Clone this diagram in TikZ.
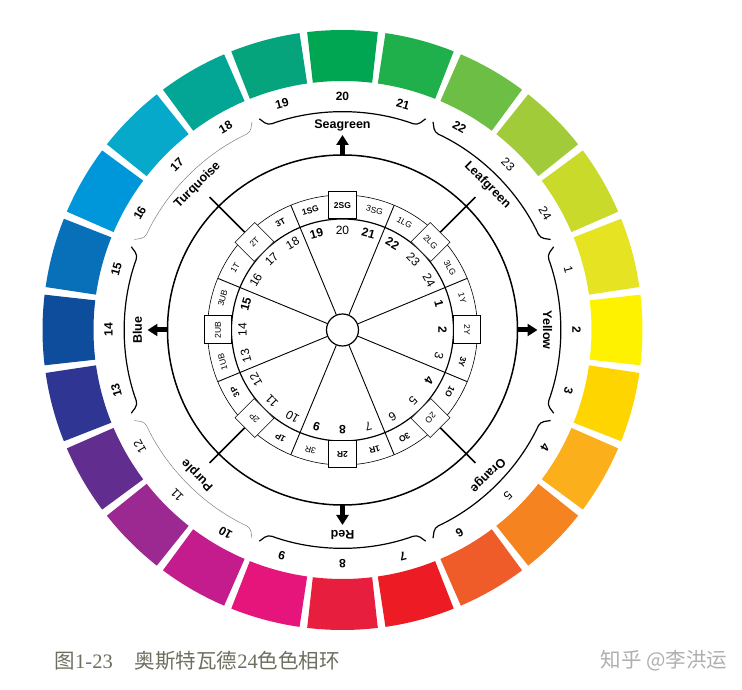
\documentclass[tikz,border=0pt]{standalone}
\usepackage{fontspec}
\setmainfont{Liberation Sans}
\newfontfamily\cjk{Noto Sans CJK SC}
\newfontfamily\capserif{Liberation Serif}
\usetikzlibrary{arrows.meta}
\definecolor{Hue1}{RGB}{230, 227, 35}
\definecolor{Hue2}{RGB}{255, 242, 0}
\definecolor{Hue3}{RGB}{255, 213, 0}
\definecolor{Hue4}{RGB}{251, 175, 27}
\definecolor{Hue5}{RGB}{245, 132, 32}
\definecolor{Hue6}{RGB}{239, 91, 41}
\definecolor{Hue7}{RGB}{237, 28, 36}
\definecolor{Hue8}{RGB}{232, 30, 63}
\definecolor{Hue9}{RGB}{229, 21, 123}
\definecolor{Hue10}{RGB}{196, 27, 141}
\definecolor{Hue11}{RGB}{156, 40, 145}
\definecolor{Hue12}{RGB}{97, 46, 144}
\definecolor{Hue13}{RGB}{46, 53, 146}
\definecolor{Hue14}{RGB}{14, 76, 156}
\definecolor{Hue15}{RGB}{7, 112, 185}
\definecolor{Hue16}{RGB}{0, 150, 218}
\definecolor{Hue17}{RGB}{6, 169, 201}
\definecolor{Hue18}{RGB}{3, 165, 149}
\definecolor{Hue19}{RGB}{6, 164, 124}
\definecolor{Hue20}{RGB}{0, 166, 81}
\definecolor{Hue21}{RGB}{31, 176, 75}
\definecolor{Hue22}{RGB}{108, 190, 69}
\definecolor{Hue23}{RGB}{162, 203, 58}
\definecolor{Hue24}{RGB}{202, 218, 42}
\definecolor{Caption}{RGB}{110, 110, 95}
\definecolor{Mark}{RGB}{175, 175, 175}

\begin{document}
\begin{tikzpicture}[
        x=1pt, y=1pt,
        block/.style = {line width=51pt},
        num/.style = {inner sep=0pt, font=\fontsize{12}{12}\selectfont\bfseries},
        thinnum/.style = {inner sep=0pt, font=\fontsize{12}{12}\selectfont},
        huename/.style = {inner sep=0pt, font=\fontsize{12.5}{12.5}\selectfont\bfseries},
        cell/.style = {inner sep=0pt, font=\fontsize{8.5}{8.5}\selectfont},
        boldcell/.style = {inner sep=0pt, font=\fontsize{8.5}{8.5}\selectfont\bfseries},
        keybox/.style = {draw, fill=white, line width=1pt, minimum width=28pt, minimum height=27pt, inner sep=0pt, font=\fontsize{8.5}{8.5}\selectfont},
        thinbox/.style = {keybox, line width=0.5pt},
        brace/.style = {line width=1.2pt, rounded corners=4pt},
        thinbrace/.style = {line width=0.5pt, gray, rounded corners=4pt},
        pointer/.style = {line width=5pt, -{Triangle[width=12pt, length=10pt]}}
    ]
    \useasboundingbox (-342.5,-360) rectangle (399.5,330);

    \draw[Hue1, block] (8.2:274.5) arc (8.2:21.8:274.5);
    \draw[Hue2, block] (-6.8:274.5) arc (-6.8:6.8:274.5);
    \draw[Hue3, block] (-21.8:274.5) arc (-21.8:-8.2:274.5);
    \draw[Hue4, block] (-36.8:274.5) arc (-36.8:-23.2:274.5);
    \draw[Hue5, block] (-51.8:274.5) arc (-51.8:-38.2:274.5);
    \draw[Hue6, block] (-66.8:274.5) arc (-66.8:-53.2:274.5);
    \draw[Hue7, block] (-81.8:274.5) arc (-81.8:-68.2:274.5);
    \draw[Hue8, block] (-96.8:274.5) arc (-96.8:-83.2:274.5);
    \draw[Hue9, block] (-111.8:274.5) arc (-111.8:-98.2:274.5);
    \draw[Hue10, block] (-126.8:274.5) arc (-126.8:-113.2:274.5);
    \draw[Hue11, block] (-141.8:274.5) arc (-141.8:-128.2:274.5);
    \draw[Hue12, block] (-156.8:274.5) arc (-156.8:-143.2:274.5);
    \draw[Hue13, block] (-171.8:274.5) arc (-171.8:-158.2:274.5);
    \draw[Hue14, block] (173.2:274.5) arc (173.2:186.8:274.5);
    \draw[Hue15, block] (158.2:274.5) arc (158.2:171.8:274.5);
    \draw[Hue16, block] (143.2:274.5) arc (143.2:156.8:274.5);
    \draw[Hue17, block] (128.2:274.5) arc (128.2:141.8:274.5);
    \draw[Hue18, block] (113.2:274.5) arc (113.2:126.8:274.5);
    \draw[Hue19, block] (98.2:274.5) arc (98.2:111.8:274.5);
    \draw[Hue20, block] (83.2:274.5) arc (83.2:96.8:274.5);
    \draw[Hue21, block] (68.2:274.5) arc (68.2:81.8:274.5);
    \draw[Hue22, block] (53.2:274.5) arc (53.2:66.8:274.5);
    \draw[Hue23, block] (38.2:274.5) arc (38.2:51.8:274.5);
    \draw[Hue24, block] (23.2:274.5) arc (23.2:36.8:274.5);

    \node (out1) at (15:234) [thinnum, rotate=-75] {1};
    \node (out2) at (0:234) [num, rotate=-90] {2};
    \node (out3) at (-15:234) [num, rotate=-105] {3};
    \node (out4) at (-30:234) [num, rotate=-120] {4};
    \node (out5) at (-45:234) [thinnum, rotate=-135] {5};
    \node (out6) at (-60:234) [num, rotate=-150] {6};
    \node (out7) at (-75:234) [num, rotate=-165] {7};
    \node (out8) at (-90:234) [num, rotate=180] {8};
    \node (out9) at (-105:234) [num, rotate=165] {9};
    \node (out10) at (-120:234) [num, rotate=150] {10};
    \node (out11) at (-135:234) [thinnum, rotate=135] {11};
    \node (out12) at (-150:234) [thinnum, rotate=120] {12};
    \node (out13) at (-165:234) [num, rotate=105] {13};
    \node (out14) at (180:234) [num, rotate=90] {14};
    \node (out15) at (165:234) [num, rotate=75] {15};
    \node (out16) at (150:234) [num, rotate=60] {16};
    \node (out17) at (135:234) [num, rotate=45] {17};
    \node (out18) at (120:234) [num, rotate=30] {18};
    \node (out19) at (105:234) [num, rotate=15] {19};
    \node (out20) at (90:234) [num] {20};
    \node (out21) at (75:234) [num, rotate=-15] {21};
    \node (out22) at (60:234) [num, rotate=-30] {22};
    \node (out23) at (45:234) [thinnum, rotate=-45] {23};
    \node (out24) at (30:234) [thinnum, rotate=-60] {24};

    \draw[brace] (21.5:227) -- (20:218) arc (20:-20:218) -- (-21.5:227);
    \draw[brace] (-23.5:227) -- (-25:218) arc (-25:-65:218) -- (-66.5:227);
    \draw[brace] (-68.5:227) -- (-70:218) arc (-70:-110:218) -- (-111.5:227);
    \draw[thinbrace] (-113.5:227) -- (-115:218) arc (-115:-155:218) -- (-156.5:227);
    \draw[brace] (201.5:227) -- (200:218) arc (200:160:218) -- (158.5:227);
    \draw[thinbrace] (156.5:227) -- (155:218) arc (155:115:218) -- (113.5:227);
    \draw[brace] (111.5:227) -- (110:218) arc (110:70:218) -- (68.5:227);
    \draw[brace] (66.5:227) -- (65:218) arc (65:25:218) -- (23.5:227);

    \node (yellow) at (0:205) [huename, rotate=-90] {Yellow};
    \node (orange) at (-45:205) [huename, rotate=-135] {Orange};
    \node (red) at (-90:205) [huename, rotate=180] {Red};
    \node (purple) at (-135:205) [huename, rotate=135] {Purple};
    \node (blue) at (180:205) [huename, rotate=90] {Blue};
    \node (turquoise) at (135:205) [huename, rotate=45] {Turquoise};
    \node (seagreen) at (90:205) [huename] {Seagreen};
    \node (leafgreen) at (45:205) [huename, rotate=-45] {Leafgreen};

    \draw[line width=1.5pt] (0,0) circle [radius=175];
    \draw[pointer] (90:175) -- (90:195);
    \draw[pointer] (0:175) -- (0:195);
    \draw[pointer] (-90:175) -- (-90:195);
    \draw[pointer] (180:175) -- (180:195);

    \draw[line width=0.6pt] (0,0) circle [radius=135];
    \draw[line width=1.2pt] (0,0) circle [radius=111];
    \node (hub) at (0,0) [circle, draw, line width=1.2pt, minimum size=32pt, inner sep=0pt] {};

    \draw[line width=0.9pt] (hub.112.5) -- (112.5:135);
    \draw[line width=0.9pt] (hub.67.5) -- (67.5:135);
    \draw[line width=0.9pt] (hub.22.5) -- (22.5:135);
    \draw[line width=0.9pt] (hub.-22.5) -- (-22.5:135);
    \draw[line width=0.9pt] (hub.-67.5) -- (-67.5:135);
    \draw[line width=0.9pt] (hub.-112.5) -- (-112.5:135);
    \draw[line width=0.9pt] (hub.-157.5) -- (-157.5:135);
    \draw[line width=0.9pt] (hub.157.5) -- (157.5:135);

    \node (c1Y) at (15:124) [cell, rotate=-75] {1Y};
    \node (c2Y) at (0:124.5) [keybox, rotate=-90] {2Y};
    \node (c3Y) at (-15:124) [boldcell, rotate=-105] {3Y};
    \node (c1O) at (-30:124) [boldcell, rotate=-120] {1O};
    \node (c2O) at (-45:124.5) [thinbox, rotate=-135] {2O};
    \node (c3O) at (-60:124) [boldcell, rotate=-150] {3O};
    \node (c1R) at (-75:124) [boldcell, rotate=-165] {1R};
    \node (c2R) at (-90:124.5) [keybox, rotate=180, font=\fontsize{8.5}{8.5}\selectfont\bfseries] {2R};
    \node (c3R) at (-105:124) [cell, rotate=165] {3R};
    \node (c1P) at (-120:124) [boldcell, rotate=150] {1P};
    \node (c2P) at (-135:124.5) [thinbox, rotate=135] {2P};
    \node (c3P) at (-150:124) [boldcell, rotate=120] {3P};
    \node (c1UB) at (-165:124) [cell, rotate=105] {1UB};
    \node (c2UB) at (180:124.5) [keybox, rotate=90] {2UB};
    \node (c3UB) at (165:124) [cell, rotate=75] {3UB};
    \node (c1T) at (150:124) [cell, rotate=60] {1T};
    \node (c2T) at (135:124.5) [thinbox, rotate=45] {2T};
    \node (c3T) at (120:124) [boldcell, rotate=30] {3T};
    \node (c1SG) at (105:124) [boldcell, rotate=15] {1SG};
    \node (c2SG) at (90:124.5) [keybox, font=\fontsize{8.5}{8.5}\selectfont\bfseries] {2SG};
    \node (c3SG) at (75:124) [cell, rotate=-15] {3SG};
    \node (c1LG) at (60:124) [cell, rotate=-30] {1LG};
    \node (c2LG) at (45:124.5) [thinbox, rotate=-45] {2LG};
    \node (c3LG) at (30:124) [cell, rotate=-60] {3LG};

    \draw[line width=1.5pt] (c2LG.north) -- (45:188);
    \draw[line width=1.5pt] (c2O.north) -- (-45:188);
    \draw[line width=1.5pt] (c2P.north) -- (-135:188);
    \draw[line width=1.5pt] (c2T.north) -- (135:188);

    \node (in1) at (15:100) [num, rotate=-75] {1};
    \node (in2) at (0:100) [num, rotate=-90] {2};
    \node (in3) at (-15:100) [thinnum, rotate=-105] {3};
    \node (in4) at (-30:100) [num, rotate=-120] {4};
    \node (in5) at (-45:100) [thinnum, rotate=-135] {5};
    \node (in6) at (-60:100) [thinnum, rotate=-150] {6};
    \node (in7) at (-75:100) [thinnum, rotate=-165] {7};
    \node (in8) at (-90:100) [num, rotate=180] {8};
    \node (in9) at (-105:100) [num, rotate=165] {9};
    \node (in10) at (-120:100) [thinnum, rotate=150] {10};
    \node (in11) at (-135:100) [thinnum, rotate=135] {11};
    \node (in12) at (-150:100) [thinnum, rotate=120] {12};
    \node (in13) at (-165:100) [thinnum, rotate=105] {13};
    \node (in14) at (180:100) [thinnum, rotate=90] {14};
    \node (in15) at (165:100) [num, rotate=75] {15};
    \node (in16) at (150:100) [thinnum, rotate=60] {16};
    \node (in17) at (135:100) [thinnum, rotate=45] {17};
    \node (in18) at (120:100) [thinnum, rotate=30] {18};
    \node (in19) at (105:100) [num, rotate=15] {19};
    \node (in20) at (90:100) [thinnum] {20};
    \node (in21) at (75:100) [num, rotate=-15] {21};
    \node (in22) at (60:100) [num, rotate=-30] {22};
    \node (in23) at (45:100) [thinnum, rotate=-45] {23};
    \node (in24) at (30:100) [thinnum, rotate=-60] {24};

    \node (caption) at (-288,-331) [anchor=west, inner sep=0pt, text=Caption, font=\fontsize{20.5}{20.5}\selectfont] {{\cjk 图}{\capserif 1-23}\hspace{22pt}{\cjk 奥斯特瓦德}{\capserif 24}{\cjk 色色相环}};
    \node (mark) at (385,-331) [anchor=east, inner sep=0pt, text=Mark, font=\fontsize{20.5}{20.5}\selectfont\cjk] {知乎 @李洪运};
\end{tikzpicture}
\end{document}
